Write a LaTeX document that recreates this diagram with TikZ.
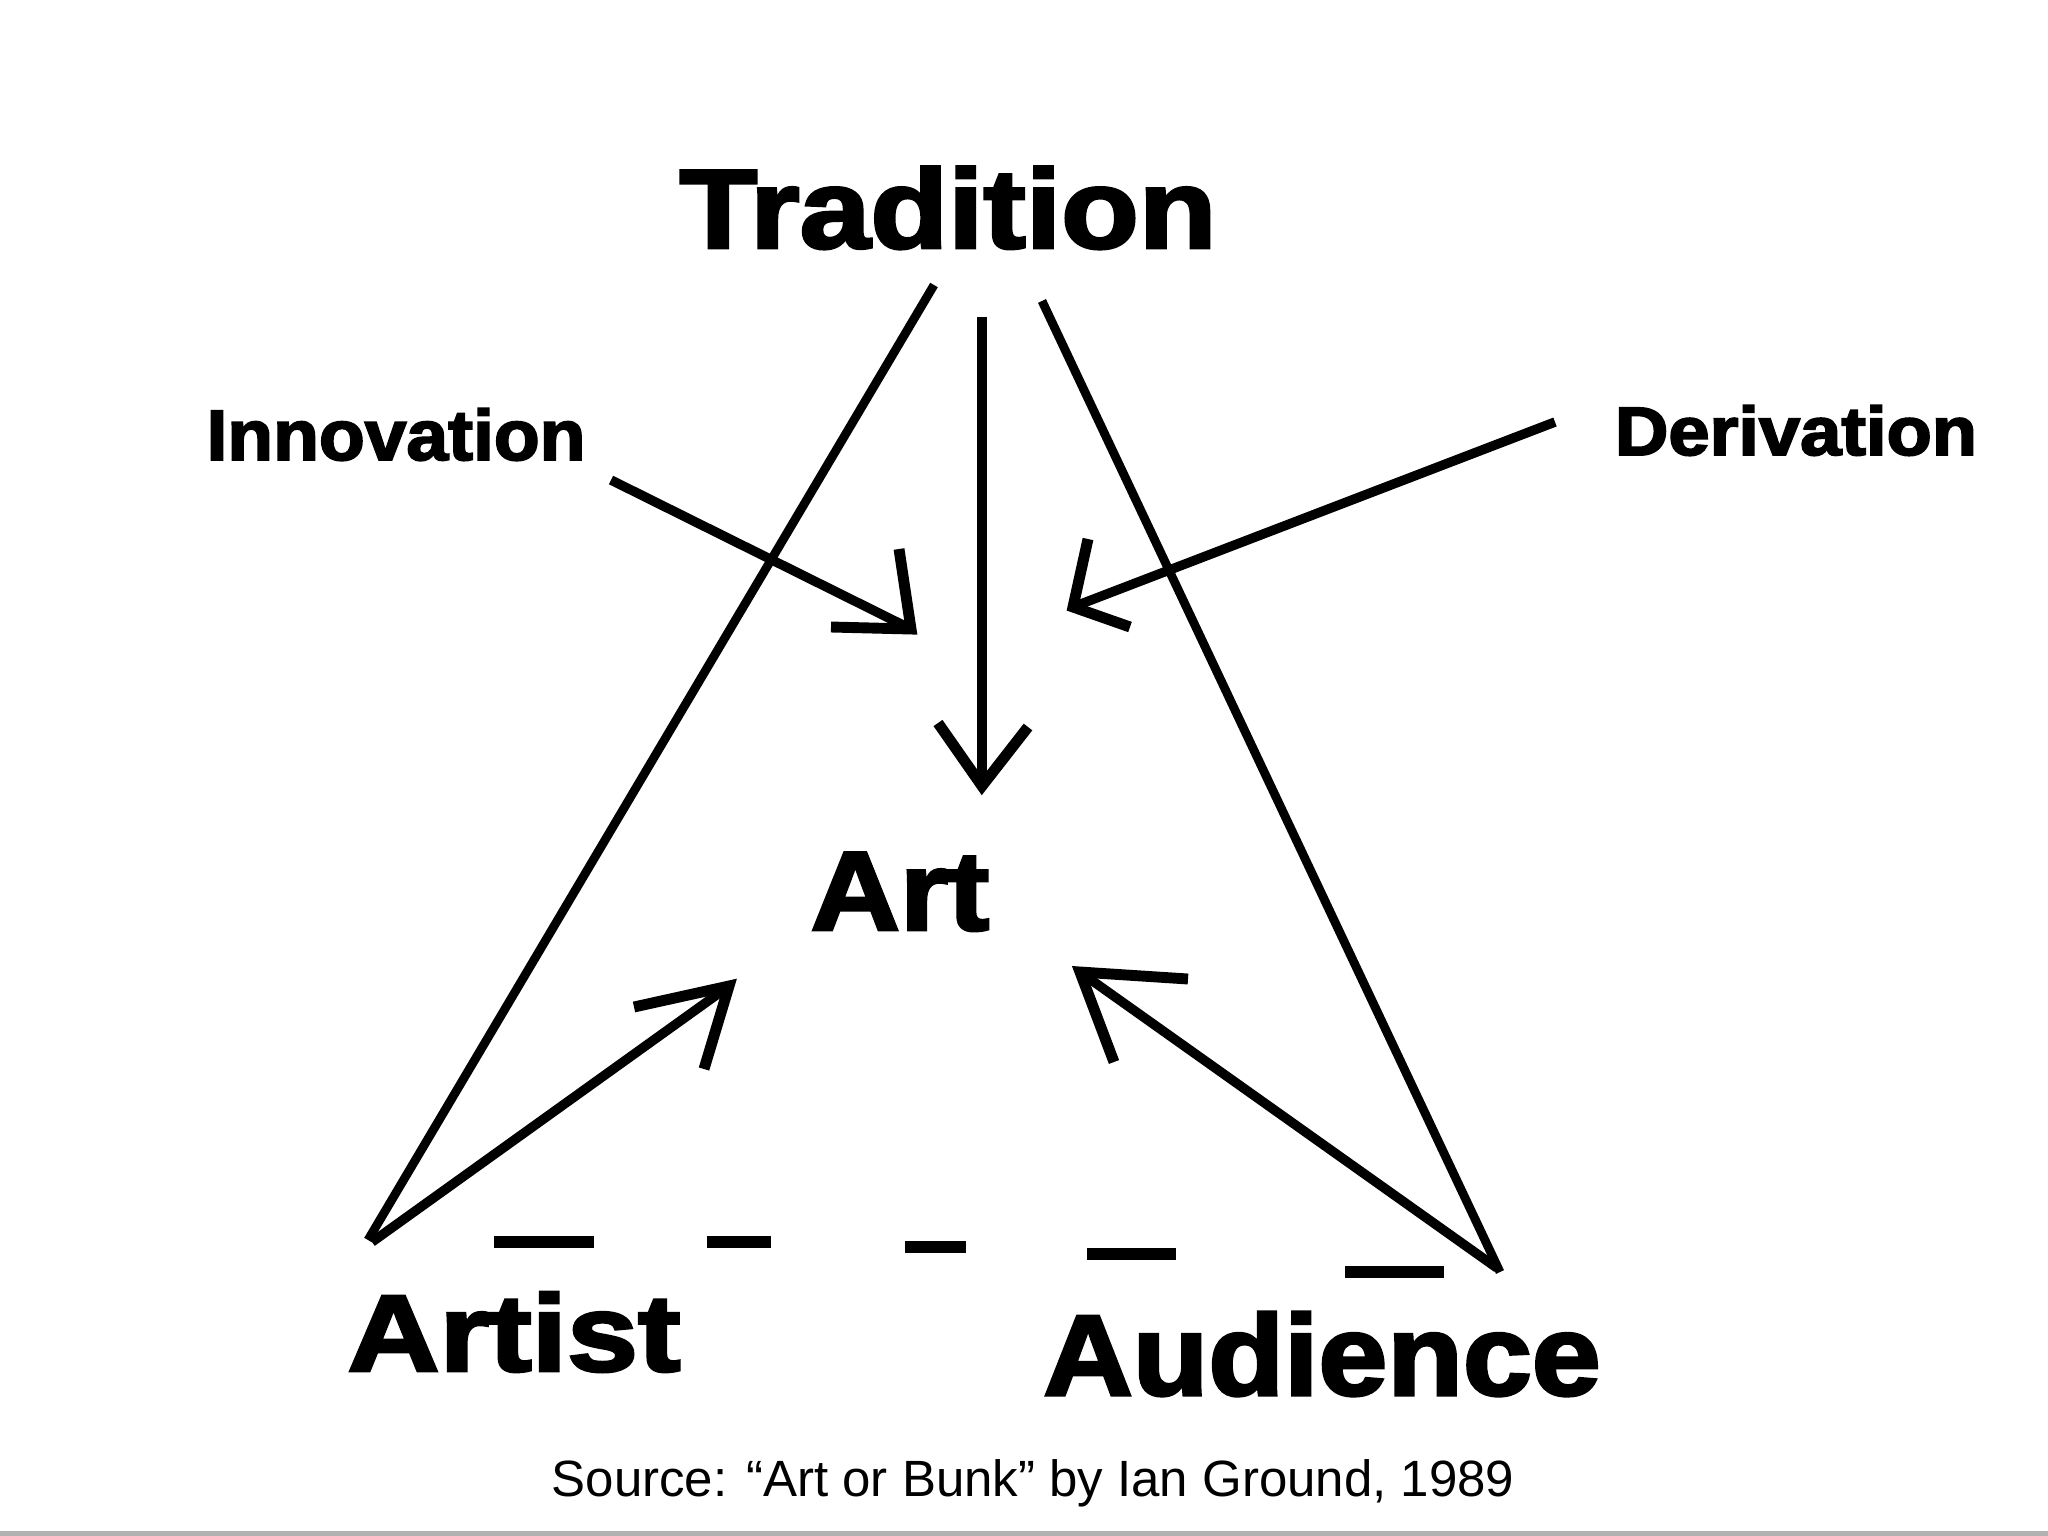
\documentclass[tikz,border=0pt]{standalone}
\usepackage{fontspec}
\usepackage{graphicx}
\setmainfont{Liberation Sans}
\newfontfamily\heavyfont{Liberation Sans}[BoldFeatures={FakeBold=2.6}]
\begin{document}
\begin{tikzpicture}[x=0.01cm,y=-0.01cm,
  lbl/.style={inner sep=0,anchor=base,font=\heavyfont\bfseries},
  tri/.style={line width=2.5pt,black},
  conn/.style={line width=2.7pt,black},
  headstyle/.style={line width=3.1pt,black,line join=miter},
  dashseg/.style={line width=3.3pt,black}]
\useasboundingbox (0,0) rectangle (2048,1536);
\fill[white] (0,0) rectangle (2048,1536);
\fill[gray!60] (0,1531) rectangle (2048,1536);

% labels
\node[lbl] (tradition) at (948,248) {\fontsize{32pt}{36pt}\selectfont\scalebox{1.13}[1]{Tradition}};
\node[lbl] (innovation) at (396,460) {\fontsize{20.3pt}{24pt}\selectfont\scalebox{1.05}[1]{Innovation}};
\node[lbl] (derivation) at (1796,455) {\fontsize{19.5pt}{24pt}\selectfont\scalebox{1.08}[1]{Derivation}};
\node[lbl] (art) at (900,930) {\fontsize{32pt}{36pt}\selectfont\scalebox{1.1}[1]{Art}};
\node[lbl] (artist) at (514,1371) {\fontsize{31pt}{36pt}\selectfont\scalebox{1.17}[1]{Artist}};
\node[lbl] (audience) at (1322,1395) {\fontsize{32.6pt}{36pt}\selectfont\scalebox{1.08}[1]{Audience}};
\node[inner sep=0,anchor=base] (source) at (1033,1496) {\fontsize{14.5pt}{18pt}\selectfont Source: “Art or Bunk” by Ian Ground, 1989};

% connector end points
\coordinate (tradL) at (934,285);
\coordinate (tradR) at (1042,301);
\coordinate (tradC) at (982,317);
\coordinate (artTop) at (982,786);
\coordinate (artistApex) at (368,1240);
\coordinate (audApex) at (1500,1272);
\coordinate (innovEnd) at (611,480);
\coordinate (innovTip) at (911,629);
\coordinate (derivEnd) at (1555,422);
\coordinate (derivTip) at (1073,607);
\coordinate (artistStart) at (372,1242);
\coordinate (artistTip) at (729,986);
\coordinate (audStart) at (1497,1268);
\coordinate (audTip) at (1080,972);

% triangle sides
\draw[tri] (tradL) -- (artistApex);
\draw[tri] (tradR) -- (audApex);

% Tradition -> Art
\draw[conn] (tradC) -- (artTop);
\draw[headstyle] (938,723) -- (artTop) -- (1028,727);

% Innovation
\draw[conn] (innovEnd) -- (innovTip);
\draw[headstyle] (899,549) -- (innovTip) -- (831,627);

% Derivation
\draw[conn] (derivEnd) -- (derivTip);
\draw[headstyle] (1088,539) -- (derivTip) -- (1130,627);

% Artist -> Art
\draw[conn] (artistStart) -- (artistTip);
\draw[headstyle] (634,1007) -- (artistTip) -- (704,1069);

% Audience -> Art
\draw[conn] (audStart) -- (audTip);
\draw[headstyle] (1188,979) -- (audTip) -- (1114,1062);

% dashed base
\draw[dashseg] (494,1242) -- (594,1242);
\draw[dashseg] (707,1242) -- (771,1242);
\draw[dashseg] (905,1247) -- (966,1247);
\draw[dashseg] (1087,1254) -- (1176,1254);
\draw[dashseg] (1345,1272) -- (1444,1272);
\end{tikzpicture}
\end{document}
